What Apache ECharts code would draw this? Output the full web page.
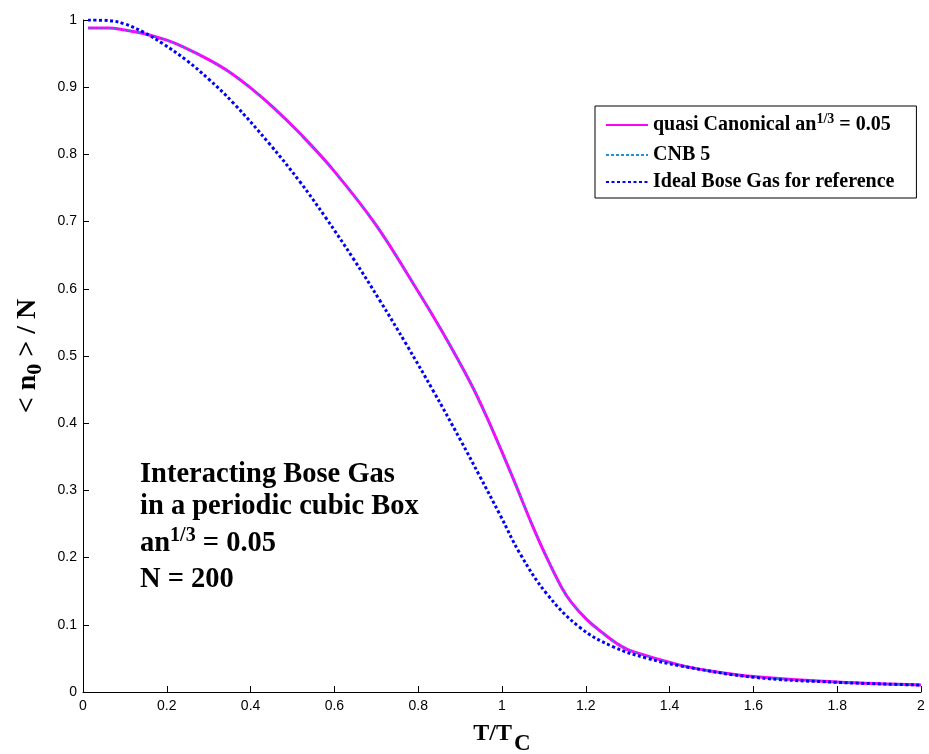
<!DOCTYPE html>
<html>
<head>
<meta charset="utf-8">
<script src="https://cdn.jsdelivr.net/npm/echarts@6/dist/echarts.min.js"></script>
<style>
html,body{margin:0;padding:0;background:#fff;}
#chart{width:929px;height:754px;}
</style>
</head>
<body>
<div id="chart"></div>
<script>
// ---- data ----
const seriesNames = ['quasi Canonical an^{1/3} = 0.05', 'CNB 5', 'Ideal Bose Gas for reference'];

const xQuasi = [0.012, 0.06, 0.10, 0.144, 0.20, 0.239, 0.30, 0.351, 0.40, 0.454, 0.518, 0.597, 0.697, 0.788, 0.852, 0.924, 0.963, 1.023, 1.067, 1.103, 1.142, 1.166, 1.202, 1.238, 1.282, 1.313, 1.425, 1.5, 1.6, 1.8, 2.0];
const yQuasi = [0.988, 0.988, 0.985, 0.980, 0.970, 0.960, 0.941, 0.922, 0.899, 0.870, 0.831, 0.777, 0.697, 0.608, 0.542, 0.461, 0.410, 0.323, 0.256, 0.205, 0.156, 0.133, 0.108, 0.089, 0.069, 0.060, 0.040, 0.031, 0.023, 0.0148, 0.0105];

const xCNB = [0.012, 0.06, 0.10, 0.144, 0.20, 0.239, 0.30, 0.351, 0.40, 0.454, 0.518, 0.597, 0.697, 0.788, 0.852, 0.924, 0.963, 1.023, 1.067, 1.103, 1.142, 1.166, 1.202, 1.238, 1.282, 1.313, 1.425, 1.5, 1.6, 1.8, 2.0];
const yCNB = [0.988, 0.988, 0.985, 0.980, 0.970, 0.960, 0.941, 0.922, 0.899, 0.870, 0.831, 0.777, 0.697, 0.608, 0.542, 0.461, 0.410, 0.323, 0.256, 0.205, 0.156, 0.133, 0.108, 0.089, 0.069, 0.060, 0.040, 0.031, 0.023, 0.0148, 0.0105];

const xIdeal = [0.012, 0.064, 0.10, 0.144, 0.19, 0.247, 0.30, 0.358, 0.446, 0.518, 0.578, 0.645, 0.709, 0.772, 0.836, 0.900, 0.947, 0.995, 1.043, 1.107, 1.186, 1.266, 1.345, 1.425, 1.6, 1.8, 2.0];
const yIdeal = [1.0, 0.999, 0.994, 0.982, 0.965, 0.940, 0.912, 0.877, 0.815, 0.759, 0.707, 0.645, 0.582, 0.517, 0.448, 0.376, 0.321, 0.264, 0.206, 0.146, 0.096, 0.067, 0.0505, 0.039, 0.022, 0.0144, 0.0104];

const annotationLines = ['Interacting Bose Gas', 'in a periodic cubic Box', 'an^{1/3} = 0.05', 'N = 200'];

// ---- build ----
function zip(xs, ys){ return xs.map((x,i)=>[x, ys[i]]); }
function toRich(s){
  const m = s.match(/^(.*)\^\{(.*?)\}(.*)$/);
  return m ? '{b|' + m[1] + '}{sup|' + m[2] + '}{b|' + m[3] + '}' : '{b|' + s + '}';
}

const serif = '"Liberation Serif","Times New Roman",serif';
const sans = '"Liberation Sans",Arial,sans-serif';

const chart = echarts.init(document.getElementById('chart'), null, {renderer:'canvas'});

const option = {
  animation: false,
  backgroundColor: '#fff',
  grid: {left: 83, right: 8, top: 20, bottom: 62, containLabel: false, outerBoundsMode: 'none'},
  legend: {
    orient: 'vertical',
    left: 595, top: 106,
    padding: [6, 22, 6, 10],
    backgroundColor: '#fff',
    borderColor: '#000', borderWidth: 1, borderRadius: 0,
    itemWidth: 42, itemHeight: 14, itemGap: 7,
    itemStyle: {opacity: 0},
    data: seriesNames,
    formatter: function(n){ return toRich(n); },
    textStyle: {
      rich: {
        b: {fontFamily: serif, fontWeight: 'bold', fontSize: 20, color: '#000', lineHeight: 21},
        sup: {fontFamily: serif, fontWeight: 'bold', fontSize: 14, color: '#000', lineHeight: 21, padding: [0,0,12,0]}
      }
    }
  },
  xAxis: {
    type: 'value', min: 0, max: 2, interval: 0.2,
    axisLine: {lineStyle: {color: '#000', width: 1}},
    axisTick: {inside: true, length: 6, lineStyle: {color: '#000'}},
    splitLine: {show: false},
    axisLabel: {fontFamily: sans, fontSize: 14, color: '#000', margin: 7},
    name: '{b|T/T}{sub|C}',
    nameLocation: 'middle', nameGap: 19,
    nameTextStyle: {
      rich: {
        b: {fontFamily: serif, fontWeight: 'bold', fontSize: 24, color: '#000'},
        sub: {fontFamily: serif, fontWeight: 'bold', fontSize: 23, color: '#000', padding: [22,0,0,2]}
      }
    }
  },
  yAxis: {
    type: 'value', min: 0, max: 1, interval: 0.1,
    axisLine: {show: true, lineStyle: {color: '#000', width: 1}},
    axisTick: {show: true, inside: true, length: 6, lineStyle: {color: '#000'}},
    splitLine: {show: false},
    axisLabel: {fontFamily: sans, fontSize: 14, color: '#000', margin: 6},
    name: '{b|< n}{sub|0}{b| > / N}',
    nameLocation: 'middle', nameGap: 36, nameRotate: 90,
    nameTextStyle: {
      rich: {
        b: {fontFamily: serif, fontWeight: 'bold', fontSize: 28, color: '#000'},
        sub: {fontFamily: serif, fontWeight: 'bold', fontSize: 22, color: '#000', padding: [16,0,0,0]}
      }
    }
  },
  graphic: annotationLines.map((t, i) => ({
    type: 'text', left: 140, top: [460, 492, 526, 565][i],
    style: {
      text: toRich(t),
      rich: {
        b: {fontFamily: serif, fontWeight: 'bold', fontSize: 28.5, fill: '#000', lineHeight: 31},
        sup: {fontFamily: serif, fontWeight: 'bold', fontSize: 20, fill: '#000', lineHeight: 31, padding: [0,0,16,0]}
      }
    }
  })),
  series: [
    {
      name: seriesNames[0], type: 'line', data: zip(xQuasi, yQuasi),
      smooth: 0.4, symbol: 'none',
      lineStyle: {color: '#ff00ff', width: 3},
      itemStyle: {color: '#ff00ff'}, z: 2
    },
    {
      name: seriesNames[1], type: 'line', data: zip(xCNB, yCNB),
      smooth: 0.4, symbol: 'none',
      lineStyle: {color: '#1f8fe0', width: 1, type: [3, 2]},
      itemStyle: {color: '#1f8fe0'}, z: 3
    },
    {
      name: seriesNames[2], type: 'line', data: zip(xIdeal, yIdeal),
      smooth: 0.4, symbol: 'none',
      lineStyle: {color: '#0000ff', width: 3, type: [3, 2.5]},
      itemStyle: {color: '#0000ff'}, z: 4
    }
  ]
};
chart.setOption(option);
</script>
</body>
</html>
